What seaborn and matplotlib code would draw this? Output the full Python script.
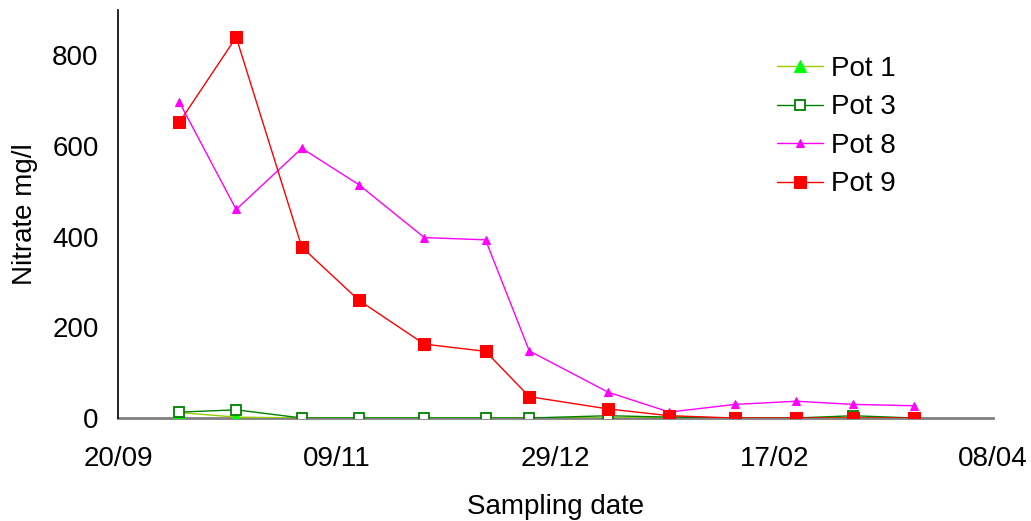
import pandas as pd
import seaborn as sns
import matplotlib.pyplot as plt
import matplotlib.dates as mdates

# Sampling dates and nitrate readings (mg/l) per pot
dates = ["2005-10-04", "2005-10-17", "2005-11-01", "2005-11-14", "2005-11-29",
         "2005-12-13", "2005-12-23", "2006-01-10", "2006-01-24", "2006-02-08",
         "2006-02-22", "2006-03-07", "2006-03-21"]
pot1 = [12, 2, 0, 0, 0, 0, 0, 0, 0, 0, 0, 0, 0]
pot3 = [13, 18, 0, 0, 0, 0, 0, 5, 2, 0, 0, 5, 0]
pot8 = [697, 460, 595, 515, 398, 393, 148, 57, 13, 30, 37, 30, 27]
pot9 = [652, 840, 377, 260, 163, 147, 47, 20, 5, 0, 0, 0, 0]
tick_dates = ["2005-09-20", "2005-11-09", "2005-12-29", "2006-02-17", "2006-04-08"]

x = pd.to_datetime(dates)
ticks = pd.to_datetime(tick_dates)

sns.set_style("white")
plt.rcParams["font.family"] = ["Liberation Sans", "DejaVu Sans"]
plt.rcParams["text.color"] = "black"
plt.rcParams["axes.labelcolor"] = "black"

fig = plt.figure(figsize=(10.31, 5.21), dpi=100)
ax = fig.add_axes([0.1145, 0.1977, 0.8487, 0.7831])

sns.lineplot(x=x, y=pot1, ax=ax, color="#99cc00", lw=1, marker="^", markersize=8,
             markerfacecolor="#00ff00", markeredgecolor="#00ff00", label="Pot 1")
sns.lineplot(x=x, y=pot3, ax=ax, color="#008000", lw=1, marker="s", markersize=7,
             markerfacecolor="white", markeredgecolor="#008000", markeredgewidth=1.3,
             label="Pot 3")
sns.lineplot(x=x, y=pot8, ax=ax, color="#ff00ff", lw=1, marker="^", markersize=6,
             markerfacecolor="#ff00ff", markeredgecolor="#ff00ff", label="Pot 8")
sns.lineplot(x=x, y=pot9, ax=ax, color="#ff0000", lw=1, marker="s", markersize=9,
             markerfacecolor="#ff0000", markeredgecolor="#ff0000", label="Pot 9")

ax.set_xlim(ticks[0], ticks[-1])
ax.set_ylim(0, 900)
ax.set_xticks(ticks)
ax.xaxis.set_major_formatter(mdates.DateFormatter("%d/%m"))
ax.set_yticks([0, 200, 400, 600, 800])

ax.spines["top"].set_visible(False)
ax.spines["right"].set_visible(False)
ax.spines["left"].set_color("black")
ax.spines["bottom"].set_color("#808080")
ax.spines["left"].set_linewidth(1.2)
ax.spines["bottom"].set_linewidth(2)
ax.spines["bottom"].set_zorder(0)

ax.tick_params(axis="both", direction="out", length=6, width=1.2, colors="black",
               labelsize=20, pad=8)
ax.tick_params(axis="x", pad=14)
for t in ax.xaxis.get_major_ticks()[3:]:
    t.tick1line.set_color("#808080")

ax.set_xlabel("Sampling date", fontsize=20, labelpad=16)
ax.set_ylabel("Nitrate mg/l", fontsize=20, labelpad=10)

ax.legend(loc="upper left", bbox_to_anchor=(0.74, 0.915), frameon=False, fontsize=20,
          handlelength=1.65, handletextpad=0.3, labelspacing=0.45, borderaxespad=0)

fig.savefig("out.png", dpi=100)
